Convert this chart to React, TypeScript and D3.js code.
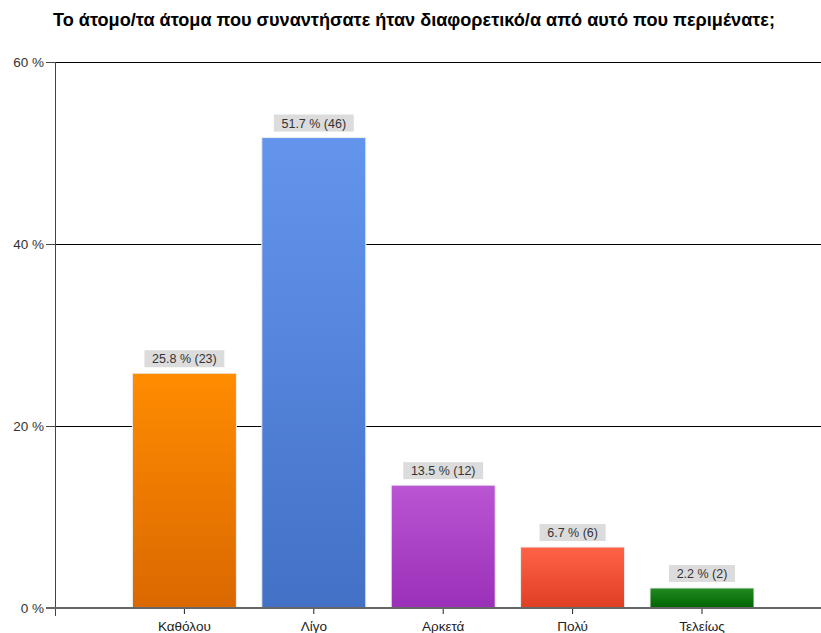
import React from "react";
import * as d3 from "d3";

const categories = ["Καθόλου", "Λίγο", "Αρκετά", "Πολύ", "Τελείως"];
const percents = [25.8, 51.7, 13.5, 6.7, 2.2];
const counts = [23, 46, 12, 6, 2];
const yTicks = [0, 20, 40, 60];
const topColors = ["#FF8C00", "#6495ED", "#BA55D3", "#FF6347", "#228B22"];
const bottomColors = ["#DA6800", "#4271C6", "#9A30B8", "#DF3E22", "#006400"];
const title = "Το άτομο/τα άτομα που συναντήσατε ήταν διαφορετικό/α από αυτό που περιμένατε;";

const W = 821;
const H = 633;
const left = 55;
const step = 129.4;
const top = 62;
const bottom = 608;
const barW = 104;

export default function App() {
  const x = d3.scaleLinear().domain([0, categories.length + 1]).range([left, left + step * (categories.length + 1)]);
  const y = d3.scaleLinear().domain([0, 60]).range([bottom, top]);
  const font = "Arial, 'Liberation Sans', sans-serif";

  return (
    <svg width={W} height={H} style={{ position: "absolute", left: 0, top: 0, background: "#fff" }}>
      <defs>
        {categories.map((c, i) => (
          <linearGradient key={c} id={`g${i}`} x1="0" y1="0" x2="0" y2="1">
            <stop offset="0%" stopColor={topColors[i]} />
            <stop offset="100%" stopColor={bottomColors[i]} />
          </linearGradient>
        ))}
      </defs>
      <text x={414} y={26} textAnchor="middle" fontFamily={font} fontWeight="bold" fontSize={17.5} fill="#000" textLength={722} lengthAdjust="spacingAndGlyphs">
        {title}
      </text>
      {yTicks.map((t) => (
        <g key={t}>
          {t > 0 && <line x1={left} x2={W} y1={y(t) + 0.5} y2={y(t) + 0.5} stroke="#000" strokeWidth={1} shapeRendering="crispEdges" />}
          <line x1={left - 9} x2={left} y1={y(t) + 0.5} y2={y(t) + 0.5} stroke="#444" strokeWidth={1} shapeRendering="crispEdges" />
          <text x={left - 11} y={y(t) + 5} textAnchor="end" fontFamily={font} fontSize={13.5} fill="#333">
            {`${t} %`}
          </text>
        </g>
      ))}
      <line x1={left + 0.5} x2={left + 0.5} y1={top} y2={bottom + 8} stroke="#444" strokeWidth={1} shapeRendering="crispEdges" />
      {categories.map((c, i) => {
        const cx = x(i + 1);
        const yt = y(percents[i]);
        const label = `${percents[i]} % (${counts[i]})`;
        const lw = label.length * 6.9 + 4;
        return (
          <g key={c}>
            <rect x={cx - barW / 2} y={yt} width={barW} height={bottom - yt} fill={`url(#g${i})`} stroke="#eee" strokeWidth={1} />
            <rect x={cx - lw / 2} y={yt - 23} width={lw} height={17} fill="#dcdcdc" />
            <text x={cx} y={yt - 10} textAnchor="middle" fontFamily={font} fontSize={12.5} fill="#333">
              {label}
            </text>
            <line x1={cx} x2={cx} y1={bottom} y2={bottom + 6} stroke="#222" strokeWidth={1} />
            <text x={cx} y={bottom + 23} textAnchor="middle" fontFamily={font} fontSize={13.5} fill="#222">
              {c}
            </text>
          </g>
        );
      })}
      <line x1={left - 9} x2={W} y1={bottom} y2={bottom} stroke="#666" strokeWidth={2} />
    </svg>
  );
}
